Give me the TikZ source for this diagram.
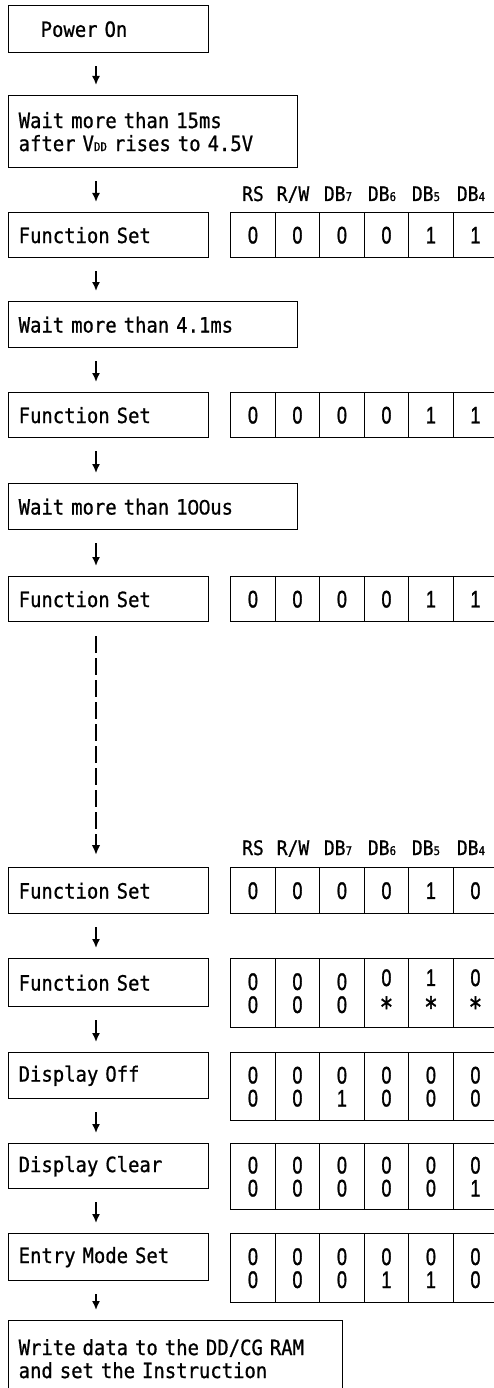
\documentclass[tikz,border=0pt]{standalone}
\usepackage{fontspec}
\usetikzlibrary{arrows.meta}
\newfontfamily\mainf[FakeStretch=0.9,FakeBold=0.8]{DejaVu Sans Mono}
\newfontfamily\zerof[FakeStretch=0.97,FakeBold=0.8]{Liberation Sans}
\newfontfamily\digf[FakeStretch=0.75,FakeBold=1.2]{Liberation Sans}
\newfontfamily\starf[FakeStretch=0.8,FakeBold=1.5]{DejaVu Sans}
\newcommand\mysub[1]{{\fontsize{12}{12}\selectfont #1}}
\newcommand\dcare{\raisebox{-8pt}{\starf\fontsize{28}{28}\selectfont *}}
\newcommand\bitrow[4]{%
  \foreach \v [count=\i] in {#4}{%
    \node[cell, minimum height=#3] (#1-\i) at ({230+(\i-1)*44.5},#2) {\v};}}
\newcommand\hdrrow[2]{%
  \node[hdr] (#1-rs) at (253,#2) {RS};
  \node[hdr] (#1-rw) at (293,#2) {R/W};
  \node[hdr] (#1-d7) at (338,#2) {DB\mysub{7}};
  \node[hdr] (#1-d6) at (382,#2) {DB\mysub{6}};
  \node[hdr] (#1-d5) at (426,#2) {DB\mysub{5}};
  \node[hdr] (#1-d4) at (471,#2) {DB\mysub{4}};}
\begin{document}
\begin{tikzpicture}[x=1pt,y=-1pt,
  fbox/.style={draw, line width=1.4pt, anchor=north west, inner xsep=10pt,
    inner ysep=0pt, align=left, font=\mainf\fontsize{21}{23}\selectfont},
  cell/.style={draw, line width=1.4pt, anchor=north west, minimum width=44.5pt,
    inner sep=0pt, align=center, font=\digf\fontsize{24}{23}\selectfont},
  hdr/.style={anchor=base, inner sep=0pt, font=\mainf\fontsize{20}{20}\selectfont},
  flow/.style={line width=1.6pt, -{Latex[length=9pt,width=8pt]},
    shorten <=13pt, shorten >=10pt},
  dflow/.style={line width=2.4pt, dash pattern=on 17pt off 5pt,
    -{Latex[length=10pt,width=8.5pt]}, shorten <=14pt, shorten >=12pt}]
\useasboundingbox[fill=white] (0,0) rectangle (493,1388);
\coordinate (ax) at (96,0);

\node[fbox, text width=180pt, minimum height=47pt] (pwr) at (8,5) {\hspace*{22pt}Power On};
\node[fbox, text width=269pt, minimum height=72pt] (w1) at (8,95)
  {Wait more than 15ms\\after V\mysub{DD} rises to 4.5V};

\hdrrow{ha}{201}
\node[fbox, text width=180pt, minimum height=45pt] (fs1) at (8,212) {Function Set};
\bitrow{b1}{212}{45pt}{0,0,0,0,1,1}

\node[fbox, text width=269pt, minimum height=46pt] (w2) at (8,301) {Wait more than 4.1ms};
\node[fbox, text width=180pt, minimum height=45pt] (fs2) at (8,392) {Function Set};
\bitrow{b2}{392}{45pt}{0,0,0,0,1,1}

\node[fbox, text width=269pt, minimum height=46pt] (w3) at (8,483) {Wait more than 1{\zerof 00}us};
\node[fbox, text width=180pt, minimum height=45pt] (fs3) at (8,576) {Function Set};
\bitrow{b3}{576}{45pt}{0,0,0,0,1,1}

\hdrrow{hb}{855}
\node[fbox, text width=180pt, minimum height=46pt] (fs4) at (8,867) {Function Set};
\bitrow{b4}{867}{46pt}{0,0,0,0,1,0}

\node[fbox, text width=180pt, minimum height=48pt] (fs5) at (8,958) {Function Set};
\bitrow{b5}{958}{69pt}{{0\\0},{0\\0},{0\\0},{0\\\dcare},{1\\\dcare},{0\\\dcare}}

\node[fbox, text width=180pt, minimum height=46pt] (doff) at (8,1052) {Display Off};
\bitrow{b6}{1052}{68pt}{{0\\0},{0\\0},{0\\1},{0\\0},{0\\0},{0\\0}}

\node[fbox, text width=180pt, minimum height=45pt] (dclr) at (8,1143) {Display Clear};
\bitrow{b7}{1143}{66pt}{{0\\0},{0\\0},{0\\0},{0\\0},{0\\0},{0\\1}}

\node[fbox, text width=180pt, minimum height=47pt] (ems) at (8,1233) {Entry Mode Set};
\bitrow{b8}{1233}{69pt}{{0\\0},{0\\0},{0\\0},{0\\1},{0\\1},{0\\0}}

\node[fbox, text width=314pt, minimum height=76pt] (wr) at (8,1320)
  {Write data to the DD/CG RAM\\and set the Instruction};

\draw[flow] (pwr.south -| ax) -- (w1.north -| ax);
\draw[flow] (w1.south -| ax) -- (fs1.north -| ax);
\draw[flow] (fs1.south -| ax) -- (w2.north -| ax);
\draw[flow] (w2.south -| ax) -- (fs2.north -| ax);
\draw[flow] (fs2.south -| ax) -- (w3.north -| ax);
\draw[flow] (w3.south -| ax) -- (fs3.north -| ax);
\draw[dflow] (fs3.south -| ax) -- (fs4.north -| ax);
\draw[flow] (fs4.south -| ax) -- (fs5.north -| ax);
\draw[flow] (fs5.south -| ax) -- (doff.north -| ax);
\draw[flow] (doff.south -| ax) -- (dclr.north -| ax);
\draw[flow] (dclr.south -| ax) -- (ems.north -| ax);
\draw[flow] (ems.south -| ax) -- (wr.north -| ax);
\end{tikzpicture}
\end{document}
